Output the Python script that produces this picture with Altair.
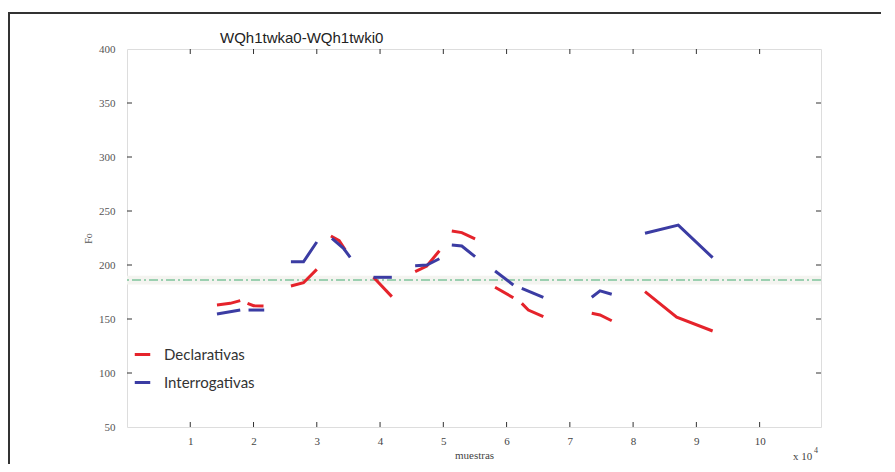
import altair as alt
import pandas as pd

# ---- data (x in samples, y in Hz) ----
series = ["Declarativas", "Interrogativas"]

decl_x = [[14220, 16320, 17900], [19050, 20000, 21580], [25910, 27900, 30000],
          [32230, 33540, 34490], [38960, 41860], [45550, 47390, 49380],
          [51340, 52920, 55020], [58180, 61070], [62400, 63440, 65810],
          [73460, 74770, 76620], [81880, 86890, 92570]]
decl_y = [[163.0, 164.5, 167.0], [164.5, 162.3, 162.0], [180.6, 183.6, 196.0],
          [226.9, 222.5, 214.0], [188.6, 170.7], [193.8, 199.1, 213.2],
          [231.5, 230.0, 224.1], [179.4, 169.7], [164.5, 158.3, 152.1],
          [155.3, 153.7, 148.4], [175.3, 151.6, 138.9]]

interr_x = [[14220, 17900], [19210, 21690], [25910, 27900, 30000],
            [32390, 34220, 35280], [38960, 41860], [45550, 47390, 49380],
            [51340, 52920, 55020], [58180, 61070], [62400, 65810],
            [73460, 74770, 76620], [81880, 87140, 92570]]
interr_y = [[154.6, 158.3], [158.3, 158.3], [203.0, 203.0, 221.3],
            [224.7, 215.5, 207.1], [188.6, 188.6], [199.4, 200.0, 205.8],
            [218.5, 217.6, 207.7], [194.4, 181.5], [178.4, 170.1],
            [170.1, 176.0, 172.9], [229.4, 237.0, 206.8]]

mean_level = 186
x_ticks = [10000, 20000, 30000, 40000, 50000, 60000, 70000, 80000, 90000, 100000]
y_ticks = [100, 150, 200, 250, 300, 350]

title_text = "WQh1twka0-WQh1twki0"
x_title = "muestras"
y_title = "Fo"

# ---- build tables ----
rows = []
for name, xs_list, ys_list in [(series[0], decl_x, decl_y), (series[1], interr_x, interr_y)]:
    for s, (xs, ys) in enumerate(zip(xs_list, ys_list)):
        for i, (xv, yv) in enumerate(zip(xs, ys)):
            rows.append({"serie": name, "seg": f"{name}-{s}", "x": xv, "y": yv, "o": i})
df = pd.DataFrame(rows)
xt = pd.DataFrame({"t": x_ticks})
yt = pd.DataFrame({"t": y_ticks})

W, H = 694, 378
RED, BLUE = "#e5232b", "#3b3ca3"

xscale = alt.Scale(domain=[0, 109700], nice=False, zero=False)
yscale = alt.Scale(domain=[50, 400], nice=False, zero=False)
xaxis = alt.Axis(values=x_ticks, labelExpr="datum.value / 10000", ticks=False, domain=False,
                 grid=False, labelFont="Liberation Serif", labelFontSize=11, labelColor="#444",
                 labelPadding=8, title=x_title, titleFont="Liberation Serif", titleFontSize=11,
                 titleFontWeight="normal", titleColor="#444", titlePadding=3)
yaxis = alt.Axis(values=[50, 100, 150, 200, 250, 300, 350, 400], ticks=False, domain=False,
                 grid=False, labelFont="Liberation Serif", labelFontSize=11, labelColor="#555",
                 labelPadding=12, title=y_title, titleFont="Liberation Serif", titleFontSize=10,
                 titleFontWeight="normal", titleColor="#555", titlePadding=5)

one = pd.DataFrame({"a": [0]})

band = alt.Chart(one).mark_rect(color="#f4f4f0").encode(
    x=alt.value(0), x2=alt.value(W),
    y=alt.datum(mean_level - 4, scale=yscale, axis=yaxis), y2=alt.datum(mean_level + 4))

mean_rule = alt.Chart(one).mark_rule(
    color="#7fc49c", strokeWidth=1.5, strokeDash=[9, 3, 2, 3]).encode(
    y=alt.datum(mean_level, scale=yscale, axis=yaxis))

lines = alt.Chart(df).mark_line(strokeWidth=3).encode(
    x=alt.X("x:Q", scale=xscale, axis=xaxis),
    y=alt.Y("y:Q", scale=yscale, axis=yaxis),
    color=alt.Color("serie:N", scale=alt.Scale(domain=series, range=[RED, BLUE]),
                    legend=alt.Legend(title=None, orient="none", legendX=6, legendY=296,
                                      symbolType="stroke", symbolSize=240, symbolStrokeWidth=3,
                                      labelFont="Lato", labelFontSize=15, labelColor="#333",
                                      labelOffset=12, rowPadding=10, padding=0)),
    detail="seg:N",
    order="o:Q")

tick_style = dict(color="#333", strokeWidth=1)
xt_bottom = alt.Chart(xt).mark_rule(**tick_style).encode(
    x=alt.X("t:Q", scale=xscale, axis=xaxis), y=alt.value(H), y2=alt.value(H - 5))
xt_top = alt.Chart(xt).mark_rule(**tick_style).encode(
    x=alt.X("t:Q", scale=xscale, axis=xaxis), y=alt.value(0), y2=alt.value(5))
yt_left = alt.Chart(yt).mark_rule(**tick_style).encode(
    y=alt.Y("t:Q", scale=yscale, axis=yaxis), x=alt.value(0), x2=alt.value(5))
yt_right = alt.Chart(yt).mark_rule(**tick_style).encode(
    y=alt.Y("t:Q", scale=yscale, axis=yaxis), x=alt.value(W), x2=alt.value(W - 5))

title_mark = alt.Chart(one).mark_text(font="Liberation Sans", fontSize=15, color="#222",
                                      align="left", baseline="alphabetic").encode(
    x=alt.value(93), y=alt.value(-6), text=alt.value(title_text))
x10 = alt.Chart(one).mark_text(font="Liberation Serif", fontSize=11, color="#444",
                               align="left", baseline="middle").encode(
    x=alt.value(W - 28), y=alt.value(H + 30), text=alt.value("x 10"))
x10sup = alt.Chart(one).mark_text(font="Liberation Serif", fontSize=8, color="#444",
                                  align="left", baseline="middle").encode(
    x=alt.value(W - 7), y=alt.value(H + 24), text=alt.value("4"))

frame_top = alt.Chart(one).mark_rule(color="#333", strokeWidth=2).encode(
    x=alt.value(-119), x2=alt.value(W + 76), y=alt.value(-36))
frame_left = alt.Chart(one).mark_rule(color="#333", strokeWidth=2).encode(
    x=alt.value(-118), y=alt.value(-36), y2=alt.value(H + 60))

chart = alt.layer(
    band, mean_rule, lines, xt_bottom, xt_top, yt_left, yt_right,
    title_mark, x10, x10sup, frame_top, frame_left
).properties(
    width=W, height=H,
    autosize=alt.AutoSizeParams(type="none"),
    padding={"left": 119, "top": 41, "right": 60, "bottom": 37},
).configure_view(stroke="#555", strokeWidth=1.3).configure(background="white")

chart.save("out.html", embed_options={"renderer": "svg", "actions": False})
